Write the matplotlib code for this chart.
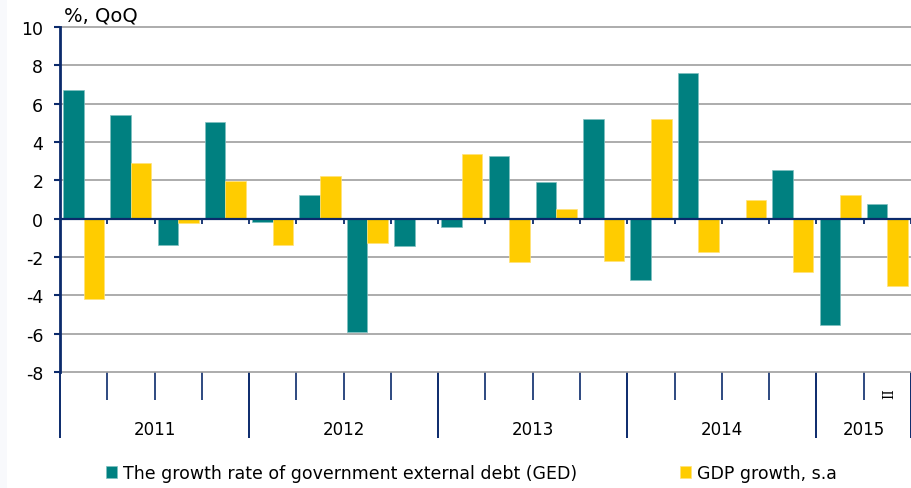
import numpy as np
import matplotlib
matplotlib.use("Agg")
import matplotlib.pyplot as plt
from matplotlib.patches import Rectangle

# quarterly data, 2011 Q1 .. 2015 Q2
years = [2011, 2012, 2013, 2014, 2015]
quarters_per_year = [4, 4, 4, 4, 2]
quarter_labels = ["", "", "", "",
                  "", "", "", "",
                  "", "", "", "",
                  "", "", "", "",
                  "", "II"]
ged = [6.72, 5.41, -1.35, 5.05, -0.15, 1.23, -5.9, -1.45, -0.43,
       3.29, 1.89, 5.21, -3.2, 7.6, 0.05, 2.54, -5.53, 0.76]
gdp = [-4.2, 2.91, -0.23, 1.97, -1.35, 2.25, -1.26, 0.03, 3.36,
       -2.27, 0.48, -2.2, 5.21, -1.73, 0.95, -2.76, 1.23, -3.49]
ged_label = "The growth rate of government external debt (GED)"
gdp_label = "GDP growth, s.a"

TEAL = "#008080"
YELLOW = "#FFCC00"
NAVY = "#0b2a6b"
GRID = "#9e9e9e"

plt.rcParams['font.family'] = ['DejaVu Sans']
plt.rcParams['axes.unicode_minus'] = False

fig = plt.figure(figsize=(9.12, 4.89), dpi=100)
# faint strip on the left edge, like the source image
fig.patches.append(Rectangle((0, 0), 0.008, 1, transform=fig.transFigure,
                             facecolor="#f8f9fc", edgecolor="none"))
ax = fig.add_axes([60 / 912, 1 - 373 / 489, 851 / 912, 345 / 489])

n = len(ged)
x = np.arange(n) + 0.5
w = 0.435
ax.bar(x - w / 2, ged, width=w, color=TEAL, edgecolor="#7fc0c0",
       linewidth=0.5, label=ged_label, zorder=3)
ax.bar(x + w / 2, gdp, width=w, color=YELLOW, edgecolor="#ffe27a",
       linewidth=0.5, label=gdp_label, zorder=3)

ax.set_xlim(0, n)
ax.set_ylim(-8, 10)
ax.set_yticks(np.arange(-8, 11, 2))
ax.tick_params(axis="y", labelsize=12.5, length=4, width=1.5, color=NAVY, pad=8)
ax.yaxis.grid(True, color=GRID, linewidth=1.2, zorder=0)
for gl in ax.get_ygridlines():
    gl.set_clip_on(False)
ax.set_axisbelow(True)

for s in ["top", "right", "bottom"]:
    ax.spines[s].set_visible(False)
ax.spines["left"].set_color(NAVY)
ax.spines["left"].set_linewidth(2.0)
ax.spines["left"].set_zorder(5)

# zero line with small category ticks
ax.axhline(0, color=NAVY, linewidth=1.6, zorder=4)
bounds = np.arange(1, n + 1)
ax.vlines(bounds, -0.27, 0, color=NAVY, linewidth=1.3, zorder=4)

# category axis below the plot: quarter ticks and year separators
year_edges = np.concatenate([[0], np.cumsum(quarters_per_year)])
quarter_edges = [b for b in range(n + 1) if b not in year_edges]
ax.set_xticks(year_edges)
ax.set_xticklabels([])
ax.set_xticks(quarter_edges, minor=True)
ax.tick_params(axis="x", which="major", length=47.5, width=1.4,
               color=NAVY, direction="out")
ax.tick_params(axis="x", which="minor", length=20, width=1.2,
               color=NAVY, direction="out")

for i, lab in enumerate(quarter_labels):
    if lab:
        ax.text(x[i] + 0.05, -0.06, lab, transform=ax.get_xaxis_transform(),
                rotation=90, ha="center", va="center", fontsize=10,
                family="DejaVu Serif")

for k, yr in enumerate(years):
    cx = (year_edges[k] + year_edges[k + 1]) / 2
    ax.text(cx, -0.165, str(yr), transform=ax.get_xaxis_transform(),
            ha="center", va="center", fontsize=12)

fig.text(64 / 912, 1 - 16 / 489, "%, QoQ", ha="left", va="center",
         fontsize=14)

fig.legend(loc="center left", bbox_to_anchor=(97 / 912, 1 - 474 / 489),
           ncol=2, frameon=False, fontsize=12.5, handlelength=0.65,
           handleheight=0.65, handletextpad=0.35, columnspacing=5.9,
           borderpad=0)

fig.savefig("out.png", dpi=100, facecolor="white")
